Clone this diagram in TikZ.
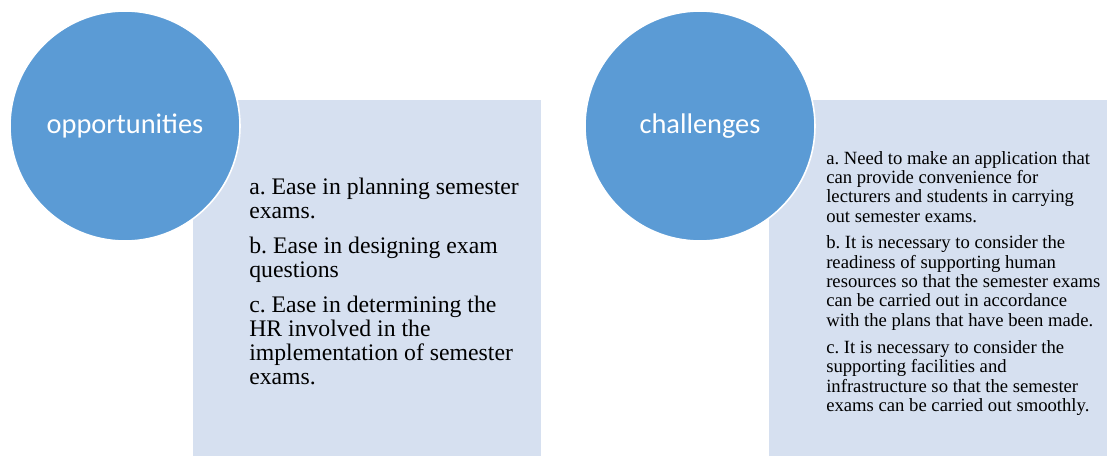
\documentclass[tikz,border=0pt]{standalone}
\usepackage{fontspec}
\setmainfont{Liberation Serif}
\newfontfamily\calibrifont{Carlito}
\usepackage{tikz}
\usetikzlibrary{positioning}
\frenchspacing

\definecolor{circblue}{HTML}{5B9BD5}
\definecolor{boxblue}{HTML}{D6E0F0}

\tikzset{
  bigcircle/.style={circle,fill=circblue,draw=white,line width=1.2pt,minimum size=172.5pt,inner sep=0pt,
    text=white,font=\calibrifont\fontsize{21.3}{24}\selectfont},
  listbox/.style={fill=boxblue,draw=none,inner sep=0pt,anchor=north west},
  listtext/.style={anchor=north west,align=left,inner sep=0pt,text=black}
}

\begin{document}
\begin{tikzpicture}[x=0.75pt,y=0.75pt,yscale=-1]
  \useasboundingbox (0,0) rectangle (1108,456);

  %Shape: Rectangle [left]
  \node[listbox,minimum width=348*0.75pt,minimum height=356*0.75pt] (oppbox) at (193,100) {};
  %Shape: Circle [left]
  \node[bigcircle] (oppcircle) at (125,126) {opportunities};
  %Text Node [left]
  \node[listtext,font=\fontsize{17.8}{18}\selectfont] (opptext) at (249,178) {%
    a. Ease in planning semester\\
    exams.\\[8pt]
    b. Ease in designing exam\\
    questions\\[8pt]
    c. Ease in determining the\\
    HR involved in the\\
    implementation of semester\\
    exams.};

  %Shape: Rectangle [right]
  \node[listbox,minimum width=338*0.75pt,minimum height=356*0.75pt] (chalbox) at (769,100) {};
  %Shape: Circle [right]
  \node[bigcircle] (chalcircle) at (700,126) {challenges};
  %Text Node [right]
  \node[listtext,font=\fontsize{14}{14.5}\selectfont] (chaltext) at (826,151) {%
    a. Need to make an application that\\
    can provide convenience for\\
    lecturers and students in carrying\\
    out semester exams.\\[5.5pt]
    b. It is necessary to consider the\\
    readiness of supporting human\\
    resources so that the semester exams\\
    can be carried out in accordance\\
    with the plans that have been made.\\[6pt]
    c. It is necessary to consider the\\
    supporting facilities and\\
    infrastructure so that the semester\\
    exams can be carried out smoothly.};

\end{tikzpicture}
\end{document}
